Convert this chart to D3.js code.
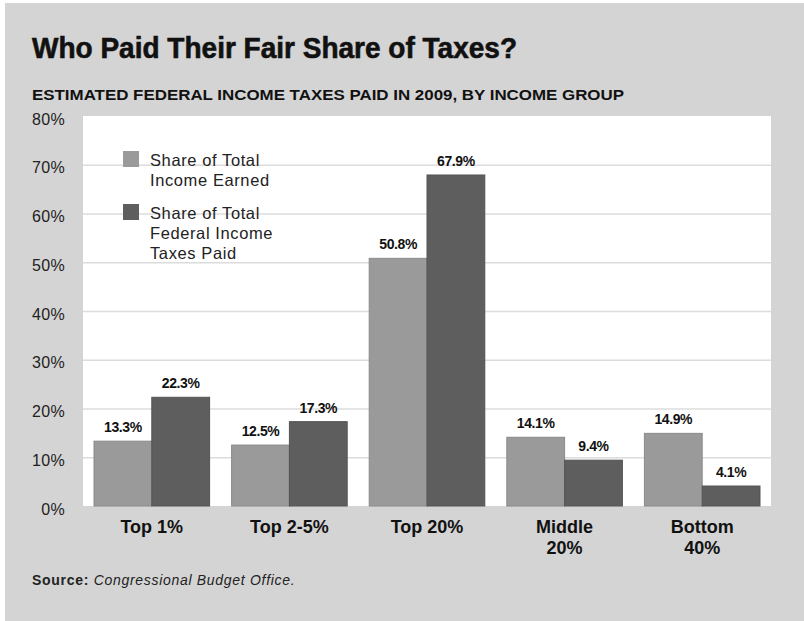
<!DOCTYPE html>
<html>
<head>
<meta charset="utf-8">
<script src="https://cdn.jsdelivr.net/npm/d3@7"></script>
<style>
body { margin: 0; background: #fff; }
svg text { font-family: "Liberation Sans", Arial, sans-serif; fill: #111; }
</style>
</head>
<body>
<svg class="chart" width="804" height="621"></svg>
<script>
var groups = ["Top 1%", "Top 2-5%", "Top 20%", "Middle 20%", "Bottom 40%"];
var groupLines = [["Top 1%"], ["Top 2-5%"], ["Top 20%"], ["Middle", "20%"], ["Bottom", "40%"]];
var incomeShare = [13.3, 12.5, 50.8, 14.1, 14.9];
var taxShare = [22.3, 17.3, 67.9, 9.4, 4.1];
var seriesNames = ["Share of Total Income Earned", "Share of Total Federal Income Taxes Paid"];
var legendLines = [["Share of Total", "Income Earned"], ["Share of Total", "Federal Income", "Taxes Paid"]];
var yTicks = [0, 10, 20, 30, 40, 50, 60, 70, 80];

var colors = ["#9a9a9a", "#5e5e5e"];
var pLeft = 83, pRight = 771, pTop = 116, pBottom = 506;

var svg = d3.select(".chart");

// gray card
svg.append("rect").attr("x", 5).attr("y", 3).attr("width", 799).attr("height", 618).style("fill", "#d4d4d4");

svg.append("text").attr("x", 32).attr("y", 58)
	.attr("textLength", 485).attr("lengthAdjust", "spacingAndGlyphs")
	.style("font-size", "29px").style("font-weight", "bold").style("stroke", "#111").style("stroke-width", 0.6)
	.text("Who Paid Their Fair Share of Taxes?");

svg.append("text").attr("x", 32).attr("y", 100)
	.attr("textLength", 592).attr("lengthAdjust", "spacingAndGlyphs")
	.style("font-size", "14.5px").style("font-weight", "bold")
	.text("ESTIMATED FEDERAL INCOME TAXES PAID IN 2009, BY INCOME GROUP");

var scaleY = d3.scaleLinear().domain([0, 80]).range([pBottom, pTop]);
var scaleX = d3.scaleBand().domain(groups).range([pLeft, pRight]).paddingInner(0.16).paddingOuter(0.08);
var scaleS = d3.scaleBand().domain([0, 1]).range([0, scaleX.bandwidth()]);

svg.append("rect").attr("x", pLeft).attr("y", pTop).attr("width", pRight - pLeft).attr("height", pBottom - pTop).style("fill", "#fff");

var yAxis = d3.axisLeft(scaleY).tickValues(yTicks).tickSize(-(pRight - pLeft)).tickFormat(function(d){ return d + "%"; });
var ax = svg.append("g").attr("class", "axis").attr("transform", "translate(" + pLeft + ",0)").call(yAxis);
ax.select(".domain").remove();
ax.selectAll(".tick line").style("stroke", "#dcdcdc").style("stroke-width", 1.5);
ax.selectAll(".tick text").attr("x", -18).attr("dy", "0.5em").style("font-size", "16px").style("letter-spacing", "0.3px").style("fill", "#222");
ax.selectAll(".tick").filter(function(d){ return d === 0 || d === 80; }).select("line").remove();

var series = [incomeShare, taxShare];
series.forEach(function(vals, s){
	svg.selectAll(".bar" + s)
		.data(vals)
		.enter()
		.append("rect")
		.attr("class", "bar" + s)
		.attr("x", function(d, i){ return scaleX(groups[i]) + scaleS(s); })
		.attr("y", function(d){ return scaleY(d); })
		.attr("width", scaleS.bandwidth())
		.attr("height", function(d){ return scaleY(0) - scaleY(d); })
		.style("fill", colors[s])
		.style("stroke", d3.color(colors[s]).darker(0.3))
		.style("stroke-width", 1);

	svg.selectAll(".lab" + s)
		.data(vals)
		.enter()
		.append("text")
		.attr("class", "lab" + s)
		.attr("x", function(d, i){ return scaleX(groups[i]) + scaleS(s) + scaleS.bandwidth() / 2; })
		.attr("y", function(d){ return scaleY(d) - 9; })
		.attr("text-anchor", "middle")
		.style("font-size", "14px").style("font-weight", "bold").style("letter-spacing", "-0.4px")
		.text(function(d){ return d.toFixed(1) + "%"; });
});

// category labels
groupLines.forEach(function(lines, i){
	lines.forEach(function(l, j){
		svg.append("text")
			.attr("x", scaleX(groups[i]) + scaleX.bandwidth() / 2)
			.attr("y", 533 + j * 21)
			.attr("text-anchor", "middle")
			.style("font-size", "18px").style("font-weight", "bold")
			.text(l);
	});
});

// legend
var legY = [151, 204];
legendLines.forEach(function(lines, s){
	svg.append("rect").attr("x", 123).attr("y", legY[s]).attr("width", 16).attr("height", 16).style("fill", colors[s]);
	lines.forEach(function(l, j){
		svg.append("text").attr("x", 150).attr("y", legY[s] + 15 + j * 20)
			.style("font-size", "16.5px").style("letter-spacing", "0.6px").style("fill", "#222").text(l);
	});
});

var src = svg.append("text").attr("x", 32).attr("y", 585).style("font-size", "14px").style("letter-spacing", "0.7px").style("fill", "#222");
src.append("tspan").style("font-weight", "bold").text("Source: ");
src.append("tspan").style("font-style", "italic").text("Congressional Budget Office.");
</script>
</body>
</html>
